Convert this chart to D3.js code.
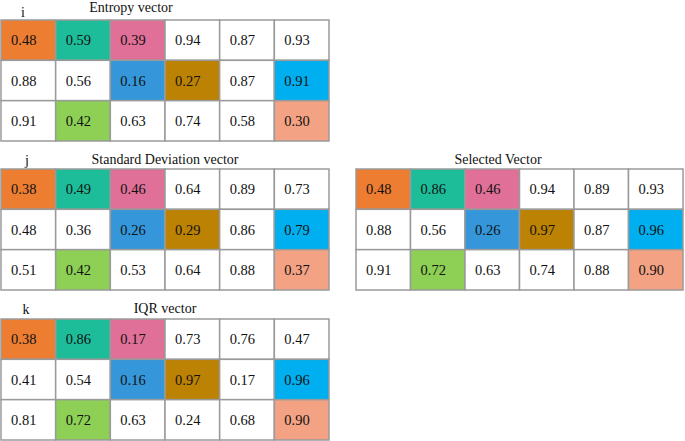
<!DOCTYPE html>
<html>
<head>
<meta charset="utf-8">
<script src="https://cdn.jsdelivr.net/npm/d3@7"></script>
<style>
  html, body { margin: 0; padding: 0; background: #fff; }
  svg { display: block; }
</style>
</head>
<body>
<svg id="chart" width="685" height="441"></svg>
<script>
// ---- data ----
const columns = [0, 1, 2, 3, 4, 5];
const rows = [0, 1, 2];

const entropyVector = [
  [0.48, 0.59, 0.39, 0.94, 0.87, 0.93],
  [0.88, 0.56, 0.16, 0.27, 0.87, 0.91],
  [0.91, 0.42, 0.63, 0.74, 0.58, 0.30]
];
const stdDevVector = [
  [0.38, 0.49, 0.46, 0.64, 0.89, 0.73],
  [0.48, 0.36, 0.26, 0.29, 0.86, 0.79],
  [0.51, 0.42, 0.53, 0.64, 0.88, 0.37]
];
const iqrVector = [
  [0.38, 0.86, 0.17, 0.73, 0.76, 0.47],
  [0.41, 0.54, 0.16, 0.97, 0.17, 0.96],
  [0.81, 0.72, 0.63, 0.24, 0.68, 0.90]
];
const selectedVector = [
  [0.48, 0.86, 0.46, 0.94, 0.89, 0.93],
  [0.88, 0.56, 0.26, 0.97, 0.87, 0.96],
  [0.91, 0.72, 0.63, 0.74, 0.88, 0.90]
];

// highlighted cells (row, col, colour key)
const highlightCells = [
  [0, 0, "orange"], [0, 1, "teal"], [0, 2, "pink"],
  [1, 2, "blue"], [1, 3, "brown"], [1, 5, "cyan"],
  [2, 1, "green"], [2, 5, "salmon"]
];
const highlightColors = {
  orange: "#ED7D31", teal: "#1DBD9A", pink: "#E07098",
  blue: "#3597DA", brown: "#BC8203", cyan: "#00AFEF",
  green: "#8DD055", salmon: "#F3A283"
};

const panels = [
  { title: "Entropy vector", label: "i", values: entropyVector,
    x: 1, y: 20, w: 328, h: 121, titleX: 131, titleY: 12, labelX: 23, labelY: 17 },
  { title: "Standard Deviation vector", label: "j", values: stdDevVector,
    x: 1, y: 169, w: 328, h: 121, titleX: 165, titleY: 164, labelX: 27, labelY: 165 },
  { title: "Selected Vector", label: "", values: selectedVector,
    x: 356, y: 169, w: 327, h: 121, titleX: 498, titleY: 164, labelX: 0, labelY: 0 },
  { title: "IQR vector", label: "k", values: iqrVector,
    x: 1, y: 319, w: 328, h: 121, titleX: 165, titleY: 313, labelX: 26, labelY: 314 }
];

const FONT = "'Liberation Serif', 'DejaVu Serif', 'Times New Roman', Times, serif";
const svg = d3.select("#chart");
const hlMap = new Map(highlightCells.map(d => [d[0] + "-" + d[1], highlightColors[d[2]]]));

panels.forEach(p => {
  const g = svg.append("g").attr("transform", `translate(${p.x},${p.y})`);
  const xs = d3.scaleBand().domain(columns).range([0, p.w]);
  const ys = d3.scaleBand().domain(rows).range([0, p.h]);

  const cells = [];
  rows.forEach(r => columns.forEach(c => cells.push({ r, c, v: p.values[r][c] })));

  g.selectAll("rect.cell").data(cells).join("rect")
    .attr("class", "cell")
    .attr("x", d => xs(d.c))
    .attr("y", d => ys(d.r))
    .attr("width", xs.bandwidth())
    .attr("height", ys.bandwidth())
    .attr("fill", d => hlMap.get(d.r + "-" + d.c) || "#fff")
    .attr("stroke", "#9a9a9a")
    .attr("stroke-width", 1.5);

  g.selectAll("text.val").data(cells).join("text")
    .attr("class", "val")
    .attr("x", d => xs(d.c) + 10)
    .attr("y", d => ys(d.r) + ys.bandwidth() / 2 + 5)
    .style("font-family", FONT)
    .style("font-size", "14.5px")
    .style("fill", "#111")
    .text(d => d.v.toFixed(2));

  svg.append("text")
    .attr("x", p.titleX).attr("y", p.titleY)
    .attr("text-anchor", "middle")
    .style("font-family", FONT)
    .style("font-size", "14px")
    .style("fill", "#111")
    .text(p.title);

  if (p.label) {
    svg.append("text")
      .attr("x", p.labelX).attr("y", p.labelY)
      .attr("text-anchor", "middle")
      .style("font-family", FONT)
      .style("font-size", "14px")
      .style("fill", "#111")
      .text(p.label);
  }
});
</script>
</body>
</html>
